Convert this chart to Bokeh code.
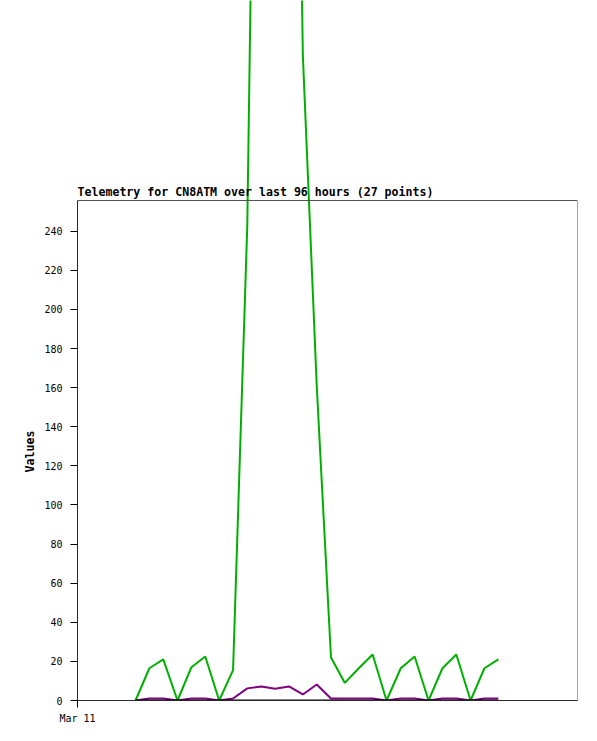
from bokeh.plotting import figure
from bokeh.models import Range1d, FixedTicker, BoxAnnotation, Label, ColumnDataSource, Title
from bokeh.embed import file_html
from bokeh.resources import INLINE

# time of each sample, minutes after Mar 11 00:00
minutes = [167, 207, 247, 288, 328, 368, 408, 448, 489, 529, 569, 609, 649, 689,
           730, 770, 810, 850, 890, 931, 971, 1011, 1051, 1091, 1132, 1172, 1212]
green_vals = [0, 16.5, 21, 0, 17, 22.5, 0, 15.5, 243, 740, 1000, 800, 330, 161,
              22, 9, 16.5, 23.5, 0, 16.5, 22.5, 0, 16.5, 23.5, 0, 16.5, 21]
purple_vals = [0, 1, 1, 0, 1, 1, 0, 1, 6.2, 7.2, 6.0, 7.2, 3.1, 8.2,
               1, 1, 1, 1, 0, 1, 1, 0, 1, 1, 0, 1, 1]
black_vals = [0, 0, 0, 0, 0, 0, 0, 0, 0, 0, 0, 0, 0, 0,
              0, 0, 0, 0, 0, 0, 0, 0, 0, 0, 0, 0, 0]
y_ticks = [0, 20, 40, 60, 80, 100, 120, 140, 160, 180, 200, 220, 240]
x_tick_labels = {0: "Mar 11"}
title_text = "Telemetry for CN8ATM over last 96 hours (27 points)"
y_label = "Values"

BOX_TOP = 255.7
MONO = "DejaVu Sans Mono"

src = ColumnDataSource(dict(t=minutes, g=green_vals, p=purple_vals, b=black_vals))

p = figure(width=597, height=741, output_backend="svg", toolbar_location=None,
           x_range=Range1d(0, 1440), y_range=Range1d(0, 358),
           min_border_left=77, min_border_right=20, min_border_top=0,
           min_border_bottom=41)
p.outline_line_color = None
p.background_fill_color = "white"
p.border_fill_color = "white"
p.xgrid.visible = False
p.ygrid.visible = False

p.line("t", "g", source=src, line_color="#00b000", line_width=2)
p.line("t", "p", source=src, line_color="#800080", line_width=2)
p.line("t", "b", source=src, line_color="black", line_width=2)

box = BoxAnnotation(bottom=0, top=BOX_TOP, fill_alpha=0, line_color="#505050",
                    line_alpha=1, line_width=1)
p.add_layout(box)

# axes
p.yaxis.ticker = FixedTicker(ticks=y_ticks)
p.yaxis.bounds = (0, BOX_TOP)
p.yaxis.axis_line_color = "black"
p.yaxis.major_tick_in = 0
p.yaxis.major_tick_out = 7
p.yaxis.minor_tick_line_color = None
p.yaxis.major_label_standoff = 8
p.yaxis.major_label_text_font = MONO
p.yaxis.major_label_text_font_size = "10px"
p.yaxis.major_label_text_color = "black"

p.xaxis.ticker = FixedTicker(ticks=[0])
p.xaxis.major_label_overrides = x_tick_labels
p.xaxis.axis_line_color = "black"
p.xaxis.major_tick_in = 0
p.xaxis.major_tick_out = 7
p.xaxis.minor_tick_line_color = None
p.xaxis.major_label_standoff = 5
p.xaxis.major_label_text_font = MONO
p.xaxis.major_label_text_font_size = "10px"
p.xaxis.major_label_text_color = "black"

title = Label(x=0, y=BOX_TOP, y_offset=9, text=title_text, text_font=MONO,
              text_font_size="11.6px", text_font_style="bold", text_color="black",
              text_align="left", text_baseline="alphabetic")
p.add_layout(title)

ylab = Title(text=y_label, align="left", offset=228, text_font=MONO,
             text_font_size="11.6px", text_font_style="bold", text_color="black")
p.add_layout(ylab, "left")

open("out.html", "w").write(file_html(p, INLINE))
